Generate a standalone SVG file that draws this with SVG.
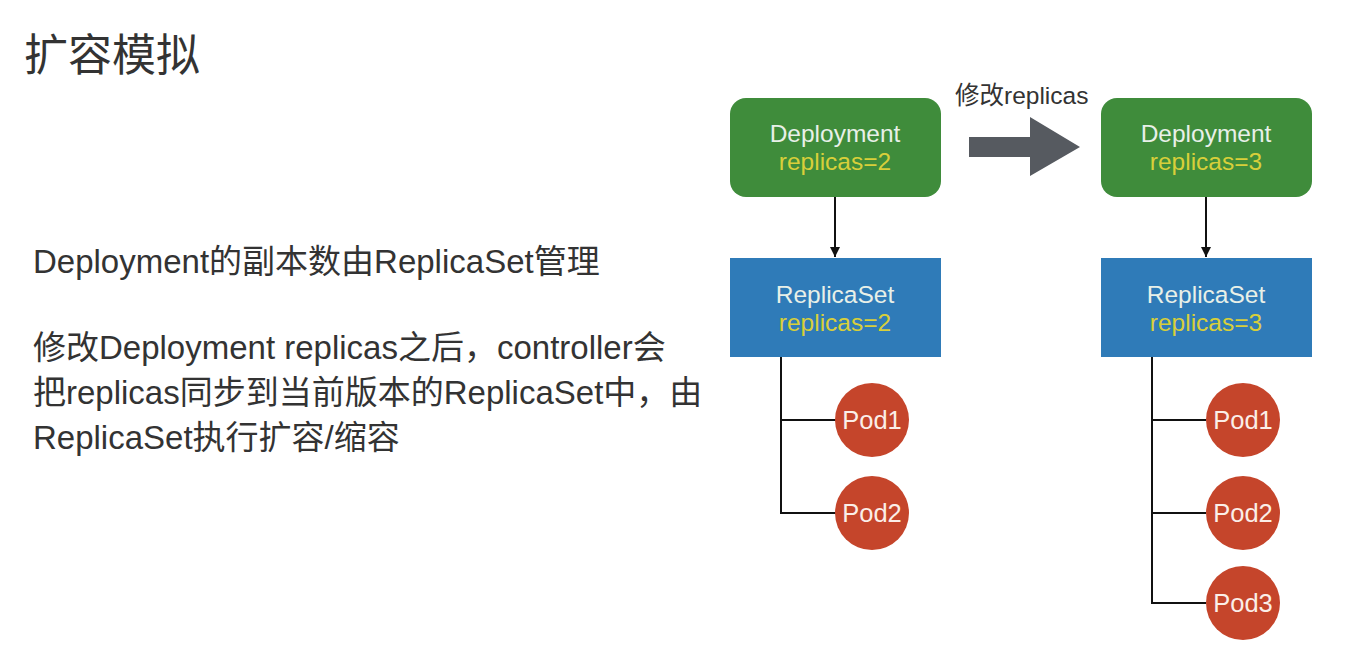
<svg xmlns="http://www.w3.org/2000/svg" width="1357" height="662" viewBox="0 0 1357 662">
<defs>
<style>
.t{font-family:"Liberation Sans","Noto Sans CJK SC",sans-serif;}
.title{font-size:44px;fill:#333;}
.body{font-size:33px;fill:#333;}
.nl{font-size:24.5px;fill:#e8f0e8;text-anchor:middle;}
.ny{font-size:24.5px;fill:#d8cf3a;text-anchor:middle;}
.pod{font-size:25.5px;fill:#fbeee8;text-anchor:middle;}
.dep{fill:#3f8c3b;}
.rs{fill:#2f7bb8;}
.pc{fill:#c5452b;}
.ln{stroke:#111;stroke-width:2;fill:none;}
</style>
<marker id="ah" viewBox="0 0 10 10" refX="10" refY="5" markerWidth="10" markerHeight="10" markerUnits="userSpaceOnUse" orient="auto">
<path d="M0,0 L10,5 L0,10 z" fill="#111"/>
</marker>
</defs>
<rect width="1357" height="662" fill="#ffffff"/>
<g id="texts" class="t">
<text class="title" x="24" y="71">扩容模拟</text>
<text class="body" x="33" y="273">Deployment的副本数由ReplicaSet管理</text>
<text class="body" x="33" y="359">修改Deployment replicas之后，controller会</text>
<text class="body" x="33" y="404">把replicas同步到当前版本的ReplicaSet中，由</text>
<text class="body" x="33" y="449">ReplicaSet执行扩容/缩容</text>
<text class="t" x="955" y="104" font-size="24.5" fill="#333">修改replicas</text>
</g>
<g id="connectors">
<line class="ln" x1="835" y1="197" x2="835" y2="257" marker-end="url(#ah)"/>
<line class="ln" x1="1206" y1="197" x2="1206" y2="257" marker-end="url(#ah)"/>
<polyline class="ln" points="781,357 781,513 836,513"/>
<line class="ln" x1="781" y1="420" x2="836" y2="420"/>
<polyline class="ln" points="1152,357 1152,603 1206,603"/>
<line class="ln" x1="1152" y1="420" x2="1206" y2="420"/>
<line class="ln" x1="1152" y1="513" x2="1206" y2="513"/>
<path id="bigarrow" d="M969,137 L1030,137 L1030,117 L1080,147 L1030,176 L1030,157 L969,157 Z" fill="#565a60"/>
</g>
<g id="deploy1">
<rect class="dep" x="730" y="98" width="211" height="99" rx="16"/>
<text class="t nl" x="835" y="142">Deployment</text>
<text class="t ny" x="835" y="170">replicas=2</text>
</g>
<g id="deploy2">
<rect class="dep" x="1101" y="98" width="211" height="99" rx="16"/>
<text class="t nl" x="1206" y="142">Deployment</text>
<text class="t ny" x="1206" y="170">replicas=3</text>
</g>
<g id="rs1">
<rect class="rs" x="730" y="258" width="211" height="99"/>
<text class="t nl" x="835" y="303">ReplicaSet</text>
<text class="t ny" x="835" y="331">replicas=2</text>
</g>
<g id="rs2">
<rect class="rs" x="1101" y="258" width="211" height="99"/>
<text class="t nl" x="1206" y="303">ReplicaSet</text>
<text class="t ny" x="1206" y="331">replicas=3</text>
</g>
<g id="pod1a"><circle class="pc" cx="872" cy="420" r="37"/><text class="t pod" x="872" y="429">Pod1</text></g>
<g id="pod2a"><circle class="pc" cx="872" cy="513" r="37"/><text class="t pod" x="872" y="522">Pod2</text></g>
<g id="pod1b"><circle class="pc" cx="1243" cy="420" r="37"/><text class="t pod" x="1243" y="429">Pod1</text></g>
<g id="pod2b"><circle class="pc" cx="1243" cy="513" r="37"/><text class="t pod" x="1243" y="522">Pod2</text></g>
<g id="pod3b"><circle class="pc" cx="1243" cy="603" r="37"/><text class="t pod" x="1243" y="612">Pod3</text></g>
</svg>
